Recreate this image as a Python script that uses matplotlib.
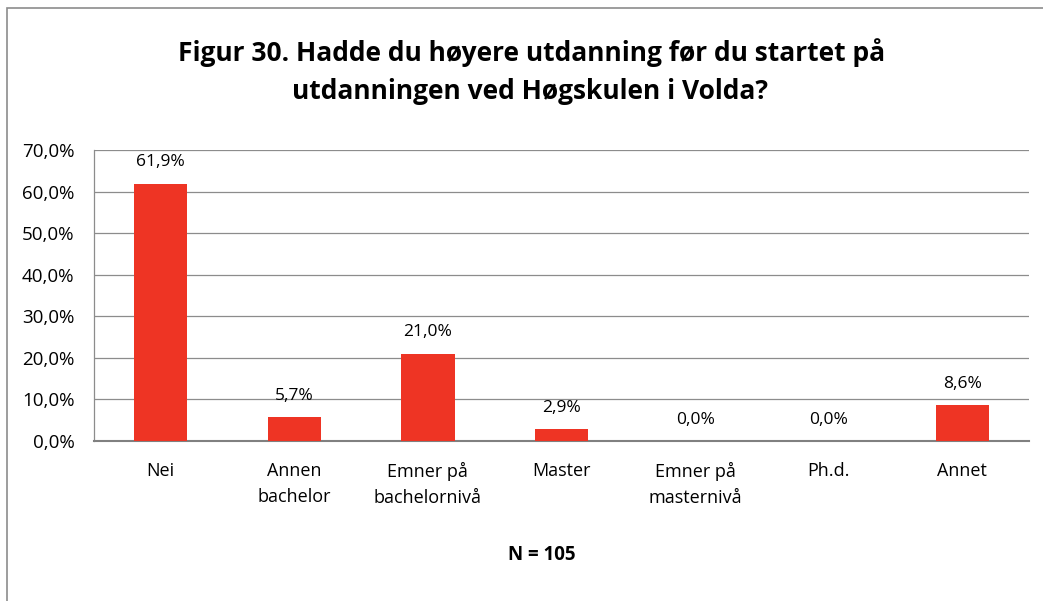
import matplotlib.pyplot as plt
import numpy as np

kategorier = ["Nei", "Annen\nbachelor", "Emner på\nbachelornivå", "Master",
              "Emner på\nmasternivå", "Ph.d.", "Annet"]
andel = [61.9, 5.7, 21.0, 2.9, 0.0, 0.0, 8.6]
yticks = [0, 10, 20, 30, 40, 50, 60, 70]

plt.rcParams['font.family'] = ['Open Sans', 'DejaVu Sans']

fig = plt.figure(figsize=(10.43, 6.01), dpi=100)
ax = fig.add_axes([0.0901, 0.2662, 0.8965, 0.4842])

x = np.arange(len(kategorier))
ax.bar(x, andel, width=0.4, color='#EE3424', zorder=3)

for xi, v in zip(x, andel):
    ax.text(xi, v + 3.2, f"{v:.1f}%".replace('.', ','), ha='center', va='bottom',
            fontsize=12.5)

ax.set_xlim(-0.5, len(kategorier) - 0.5)
ax.set_ylim(0, 70)
ax.set_yticks(yticks)
ax.set_yticklabels([f"{t:.1f}%".replace('.', ',') for t in yticks], fontsize=13.5)
ax.set_xticks(x)
ax.set_xticklabels(kategorier, fontsize=13, linespacing=1.55)
ax.tick_params(axis='x', length=0, pad=15)
ax.tick_params(axis='y', length=0, pad=14)
ax.yaxis.grid(True, color='#8c8c8c', linewidth=0.9, zorder=0)
for side in ['top', 'right']:
    ax.spines[side].set_visible(False)
ax.spines['left'].set_color('#8c8c8c')
ax.spines['left'].set_linewidth(0.9)
ax.spines['bottom'].set_color('#808080')
ax.spines['bottom'].set_linewidth(1.5)

fig.text(0.510, 0.913, "Figur 30. Hadde du høyere utdanning før du startet på",
         ha='center', va='center', fontsize=19, fontweight='bold')
fig.text(0.508, 0.847, "utdanningen ved Høgskulen i Volda?",
         ha='center', va='center', fontsize=19, fontweight='bold')
fig.text(0.519, 0.077, "N = 105", ha='center', va='center', fontsize=13.5,
         fontweight='bold')

# ramme rundt diagrammet (bare topp og venstre synlig)
fig.patches.append(plt.Rectangle((0.007, -0.05), 1.1, 1.036, transform=fig.transFigure,
                                 fill=False, edgecolor='#8c8c8c', linewidth=1.2))

fig.savefig("out.png", dpi=100)
